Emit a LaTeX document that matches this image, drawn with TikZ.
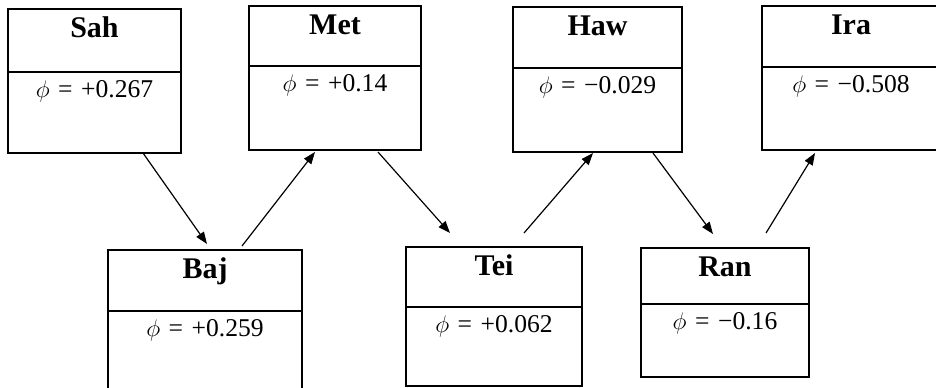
\documentclass[tikz,border=0pt]{standalone}
\usepackage{fontspec}
\setmainfont{Liberation Serif}
\usetikzlibrary{arrows.meta,positioning}

\begin{document}
\begin{tikzpicture}[x=0.5pt, y=-0.5pt, line width=0.7pt,
  head/.style={draw, inner sep=0pt, outer sep=0pt, anchor=north, align=center, text height=14pt, text depth=16.5pt, font=\fontsize{15}{18}\selectfont\bfseries},
  val/.style={draw, inner sep=0pt, outer sep=0pt, align=center, text height=12.5pt, text depth=29pt, font=\fontsize{12.8}{15}\selectfont},
  arr/.style={-{Triangle[length=6pt,width=4.5pt]}, line width=0.6pt}]
\useasboundingbox (0,0) rectangle (936,387);
\clip (0,0) rectangle (936,387);
% upper row
\node[head, text width=86.5pt, text depth=17.5pt] (sah) at (94.5,9) {Sah};
\node[val, below=0pt of sah, text width=86.5pt, text depth=28pt] (sahphi) {$\phi$ = +0.267};
\node[head, text width=86pt, text depth=16pt] (met) at (335,6) {Met};
\node[val, below=0pt of met, text width=86pt, text depth=29.5pt] (metphi) {$\phi$ = +0.14};
\node[head, text width=84.5pt] (haw) at (597.5,7) {Haw};
\node[val, below=0pt of haw, text width=84.5pt, text depth=29.5pt] (hawphi) {$\phi$ = −0.029};
\node[head, text width=89pt] (ira) at (851,6) {Ira};
\node[val, below=0pt of ira, text width=89pt] (iraphi) {$\phi$ = −0.508};
% lower row
\node[head, text width=97pt] (baj) at (205,250) {Baj};
\node[val, below=0pt of baj, text width=97pt, text depth=35pt] (bajphi) {$\phi$ = +0.259};
\node[head, text width=88pt, text depth=16pt] (tei) at (494,247) {Tei};
\node[val, below=0pt of tei, text width=88pt, text depth=27pt] (teiphi) {$\phi$ = +0.062};
\node[head, text width=84pt, text depth=14pt] (ran) at (725,248) {Ran};
\node[val, below=0pt of ran, text width=84pt, text depth=24pt] (ranphi) {$\phi$ = −0.16};
% arrows
\draw[arr] ([xshift=24.25pt]sahphi.south) -- ([xshift=1pt, yshift=3pt]baj.north);
\draw[arr] ([xshift=18.5pt, yshift=2pt]baj.north) -- ([xshift=-10pt, yshift=-1pt]metphi.south);
\draw[arr] ([xshift=21.5pt, yshift=-1pt]metphi.south) -- ([xshift=-22pt, yshift=7pt]tei.north);
\draw[arr] ([xshift=15pt, yshift=7pt]tei.north) -- ([xshift=-2.25pt, yshift=-0.5pt]hawphi.south);
\draw[arr] ([xshift=27.75pt, yshift=-0.5pt]hawphi.south) -- ([xshift=-6pt, yshift=7pt]ran.north);
\draw[arr] ([xshift=20.5pt, yshift=7.5pt]ran.north) -- ([xshift=-18pt, yshift=-1.5pt]iraphi.south);
\end{tikzpicture}
\end{document}
